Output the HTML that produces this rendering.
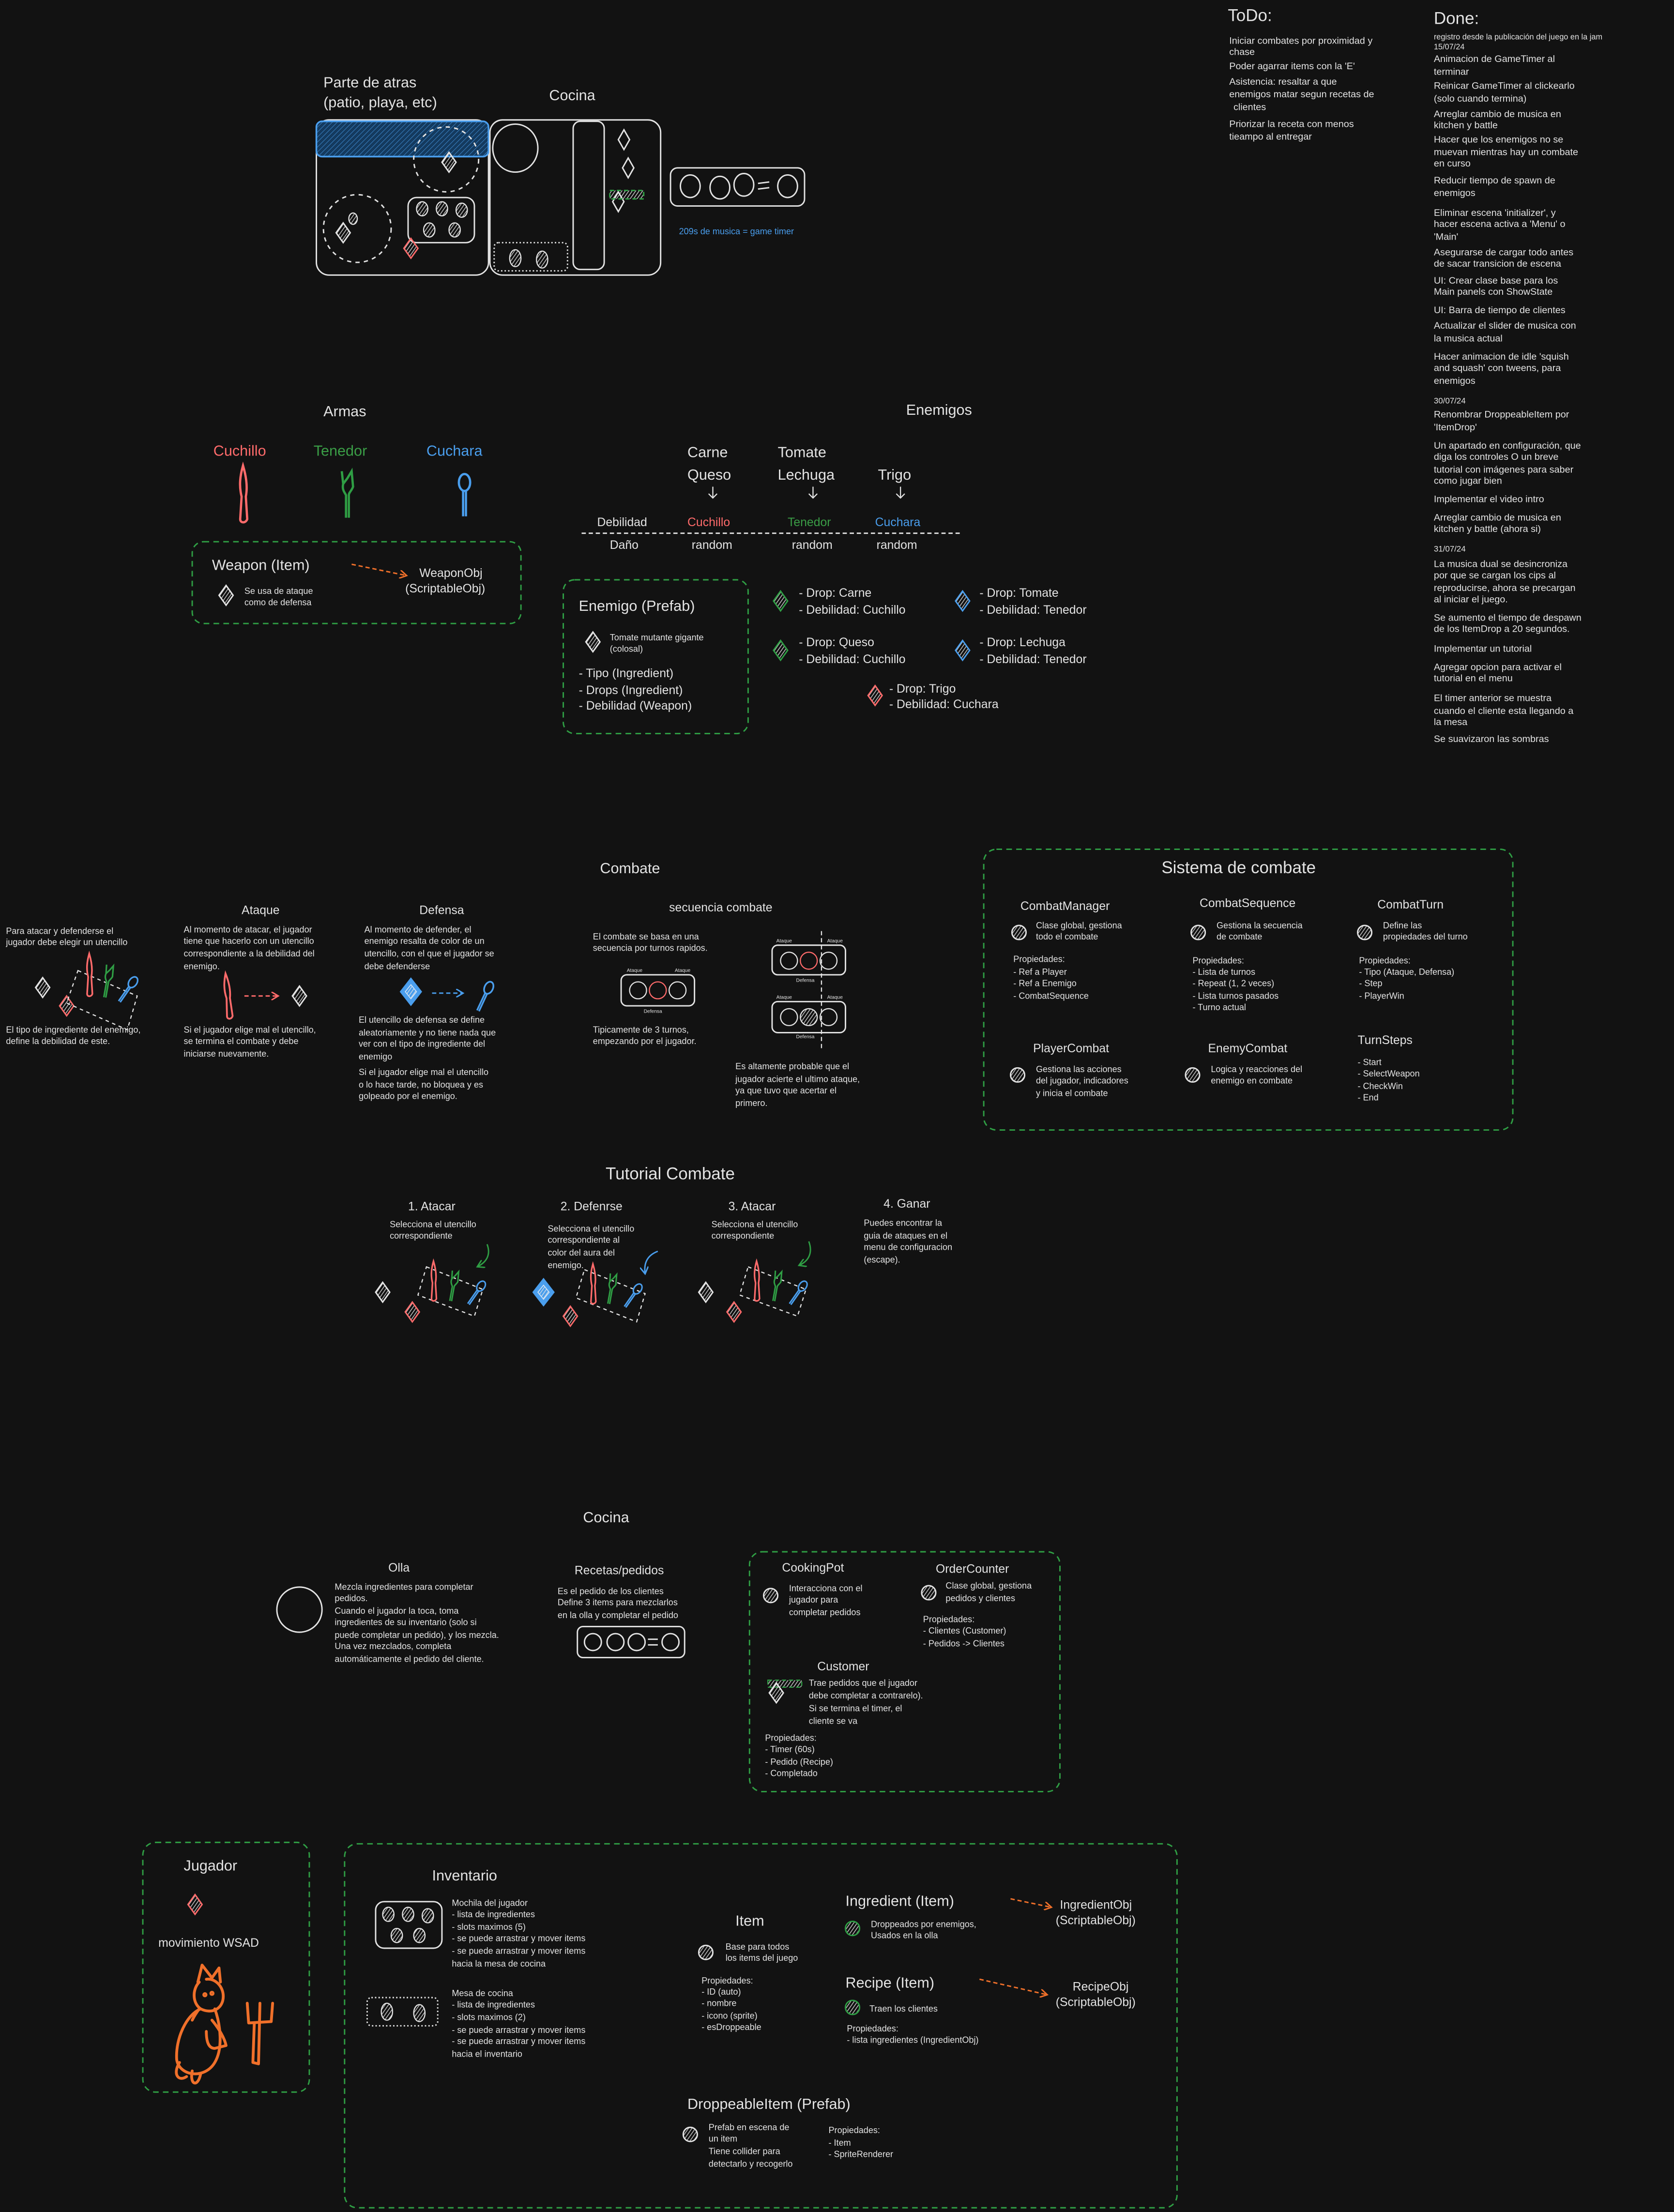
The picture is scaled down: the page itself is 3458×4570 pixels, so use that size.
<!DOCTYPE html>
<html><head><meta charset="utf-8"><style>
html,body{margin:0;padding:0;background:#121212;}
svg{display:block}
text{font-family:"Liberation Sans",sans-serif;fill:#e3e3e3}
.s{font-size:6.2px}.m{font-size:8.5px}.l{font-size:10.5px}.xl{font-size:12px}
.todo{fill:#c9a89a;font-size:6.8px}.done{fill:#3a9d46;font-size:6.8px}
.r{fill:#ff6b6b}.g{fill:#3a9d46}.b{fill:#4a9eed}
.ln{fill:none;stroke:#e3e3e3;stroke-width:1}
.box{fill:none;stroke:#e3e3e3;stroke-width:1}
.gd{fill:none;stroke:#2f9e44;stroke-width:1;stroke-dasharray:4 3}
</style></head><body>
<svg width="3458" height="4570" viewBox="0 0 1186 1568" xmlns="http://www.w3.org/2000/svg">
<defs>
<pattern id="hw" width="2" height="2" patternUnits="userSpaceOnUse" patternTransform="rotate(35)"><line x1="0.5" y1="0" x2="0.5" y2="2" stroke="#e3e3e3" stroke-width="0.45"/></pattern>
<pattern id="hb" width="2.5" height="2.5" patternUnits="userSpaceOnUse" patternTransform="rotate(45)"><line x1="0" y1="0" x2="0" y2="2.5" stroke="#4a9eed" stroke-width="0.5"/></pattern>
<g id="dw"><path d="M0,-7 L5,0 L0,7 L-5,0Z" fill="url(#hw)" stroke="#e3e3e3" stroke-width="1"/></g>
<g id="dr"><path d="M0,-7 L5,0 L0,7 L-5,0Z" fill="url(#hw)" stroke="#ff6b6b" stroke-width="1"/></g>
<g id="dg"><path d="M0,-7 L5,0 L0,7 L-5,0Z" fill="url(#hw)" stroke="#2f9e44" stroke-width="1"/></g>
<g id="db"><path d="M0,-7 L5,0 L0,7 L-5,0Z" fill="url(#hw)" stroke="#4a9eed" stroke-width="1"/></g>
<g id="dbf"><path d="M0,-9 L7,0 L0,9 L-7,0Z" fill="#4a9eed" stroke="#4a9eed" stroke-width="1.5"/><path d="M0,-5 L4,0 L0,5 L-4,0Z" fill="url(#hw)" stroke="#cfe3f7" stroke-width="0.6"/></g>
<g id="cw"><circle r="5" fill="url(#hw)" stroke="#e3e3e3" stroke-width="1"/></g>
<g id="cg"><circle r="5" fill="url(#hw)" stroke="#2f9e44" stroke-width="1"/></g>
<g id="kn"><path d="M0,-20 C3,-10 3,-3 2,2 L3,18 C2,21 -2,21 -2,18 L-1,2 C-3,-6 -2,-13 0,-20Z" fill="none" stroke="#ff6b6b" stroke-width="1.6"/></g>
<g id="fk"><path d="M-4,-17 L-3,-8 L0,-12 L3,-17 L4,-6 C3,-3 1,-2 1,0 L1,16 M-3,-8 C-4,-4 -2,-2 -1,0 L-1,16" fill="none" stroke="#2f9e44" stroke-width="1.6"/></g>
<g id="sp"><ellipse cx="0" cy="-10" rx="4" ry="6" fill="none" stroke="#4a9eed" stroke-width="1.6"/><path d="M-1,-4 L-1,14 M1,-4 L1,14" stroke="#4a9eed" stroke-width="1.6"/></g>
<marker id="ao" markerWidth="6" markerHeight="6" refX="5" refY="3" orient="auto"><path d="M0,0 L5,3 L0,6" fill="none" stroke="#f0702a" stroke-width="1"/></marker>
<marker id="ar" markerWidth="6" markerHeight="6" refX="5" refY="3" orient="auto"><path d="M0,0 L5,3 L0,6" fill="none" stroke="#ff6b6b" stroke-width="1"/></marker>
<marker id="ab" markerWidth="6" markerHeight="6" refX="5" refY="3" orient="auto"><path d="M0,0 L5,3 L0,6" fill="none" stroke="#4a9eed" stroke-width="1"/></marker>
<marker id="ag" markerWidth="6" markerHeight="6" refX="5" refY="3" orient="auto"><path d="M0,0 L5,3 L0,6" fill="none" stroke="#2f9e44" stroke-width="1"/></marker>
</defs>
<rect width="1186" height="1568" fill="#121212"/>

<!-- TOP MAP -->
<text x="229" y="62" class="l">Parte de atras</text>
<text x="229" y="76" class="l">(patio, playa, etc)</text>
<text x="389" y="71" class="l">Cocina</text>
<rect x="224" y="85" width="122" height="110" rx="9" class="box"/>
<rect x="224" y="86" width="122" height="25" rx="4" fill="#143a5e" stroke="#4a9eed" stroke-width="1.2"/>
<rect x="224" y="86" width="122" height="25" rx="4" fill="url(#hb)"/>
<circle cx="316" cy="113" r="23" fill="none" stroke="#e3e3e3" stroke-dasharray="3 3"/>
<use href="#dw" x="318" y="115"/>
<circle cx="253" cy="162" r="24" fill="none" stroke="#e3e3e3" stroke-dasharray="3 3"/>
<use href="#dw" x="243" y="165"/>
<ellipse cx="250" cy="155" rx="3" ry="4" fill="url(#hw)" stroke="#e3e3e3" stroke-width=".8"/>
<rect x="289" y="140" width="47" height="32" rx="6" class="box"/>
<g fill="url(#hw)" stroke="#e3e3e3" stroke-width=".8"><ellipse cx="299" cy="148" rx="4" ry="5"/><ellipse cx="313" cy="148" rx="4" ry="5"/><ellipse cx="327" cy="149" rx="4" ry="5"/><ellipse cx="304" cy="163" rx="4" ry="5"/><ellipse cx="322" cy="163" rx="4" ry="5"/></g>
<use href="#dr" x="291" y="176"/>
<rect x="347" y="85" width="121" height="110" rx="9" class="box"/>
<ellipse cx="365" cy="105" rx="16" ry="17" class="box"/>
<rect x="406" y="86" width="22" height="105" rx="5" class="box"/>
<path d="M442,92 L446,99 L442,106 L438,99Z M445,112 L449,119 L445,126 L441,119Z M438,136 L442,143 L438,150 L434,143Z" class="box"/>
<rect x="432" y="135" width="24" height="6" fill="url(#hw)" stroke="#2f9e44" stroke-dasharray="3 2"/>
<rect x="350" y="172" width="52" height="20" rx="3" fill="none" stroke="#e3e3e3" stroke-dasharray="1 1.5"/>
<g fill="url(#hw)" stroke="#e3e3e3" stroke-width=".8"><ellipse cx="365" cy="183" rx="4" ry="6"/><ellipse cx="384" cy="184" rx="4" ry="6"/></g>
<rect x="475" y="119" width="95" height="27" rx="5" class="box"/>
<g class="ln"><ellipse cx="489" cy="132" rx="7" ry="8"/><ellipse cx="510" cy="133" rx="7" ry="8"/><ellipse cx="527" cy="131" rx="7" ry="8"/><ellipse cx="558" cy="132" rx="7" ry="8"/><path d="M537,130 L545,129 M537,134 L545,133"/></g>
<text x="481" y="166" class="s b">209s de musica = game timer</text>

<!-- TODO -->
<text x="870" y="15" class="xl">ToDo:</text>
<g class="todo">
<text x="871" y="31">Iniciar combates por proximidad y</text>
<text x="871" y="39">chase</text>
<text x="871" y="49">Poder agarrar items con la 'E'</text>
<text x="871" y="60">Asistencia: resaltar a que</text>
<text x="871" y="69">enemigos matar segun recetas de</text>
<text x="874" y="78">clientes</text>
<text x="871" y="90">Priorizar la receta con menos</text>
<text x="871" y="99">tieampo al entregar</text>
</g>
<text x="1016" y="17" class="xl">Done:</text>
<text x="1016" y="28" style="font-size:5.6px">registro desde la publicación del juego en la jam</text>
<text x="1016" y="35" style="font-size:5.6px">15/07/24</text>
<g class="done">
<text x="1016" y="44">Animacion de GameTimer al</text><text x="1016" y="53">terminar</text>
<text x="1016" y="63">Reinicar GameTimer al clickearlo</text><text x="1016" y="72">(solo cuando termina)</text>
<text x="1016" y="83">Arreglar cambio de musica en</text><text x="1016" y="91">kitchen y battle</text>
<text x="1016" y="101">Hacer que los enemigos no se</text><text x="1016" y="110">muevan mientras hay un combate</text><text x="1016" y="118">en curso</text>
<text x="1016" y="130">Reducir tiempo de spawn de</text><text x="1016" y="139">enemigos</text>
<text x="1016" y="153">Eliminar escena 'initializer', y</text><text x="1016" y="161">hacer escena activa a 'Menu' o</text><text x="1016" y="170">'Main'</text>
<text x="1016" y="181">Asegurarse de cargar todo antes</text><text x="1016" y="189">de sacar transicion de escena</text>
<text x="1016" y="201">UI: Crear clase base para los</text><text x="1016" y="209">Main panels con ShowState</text>
<text x="1016" y="222">UI: Barra de tiempo de clientes</text>
<text x="1016" y="233">Actualizar el slider de musica con</text><text x="1016" y="242">la musica actual</text>
<text x="1016" y="255">Hacer animacion de idle 'squish</text><text x="1016" y="263">and squash' con tweens, para</text><text x="1016" y="272">enemigos</text>
</g>
<text x="1016" y="286" style="font-size:5.8px">30/07/24</text>
<g class="done">
<text x="1016" y="296">Renombrar DroppeableItem por</text><text x="1016" y="305">'ItemDrop'</text>
<text x="1016" y="318">Un apartado en configuración, que</text><text x="1016" y="326">diga los controles O un breve</text><text x="1016" y="335">tutorial con imágenes para saber</text><text x="1016" y="343">como jugar bien</text>
<text x="1016" y="356">Implementar el video intro</text>
<text x="1016" y="369">Arreglar cambio de musica en</text><text x="1016" y="377">kitchen y battle (ahora si)</text>
</g>
<text x="1016" y="391" style="font-size:5.8px">31/07/24</text>
<g class="done">
<text x="1016" y="402">La musica dual se desincroniza</text><text x="1016" y="410">por que se cargan los cips al</text><text x="1016" y="419">reproducirse, ahora se precargan</text><text x="1016" y="427">al iniciar el juego.</text>
<text x="1016" y="440">Se aumento el tiempo de despawn</text><text x="1016" y="448">de los ItemDrop a 20 segundos.</text>
<text x="1016" y="462">Implementar un tutorial</text>
<text x="1016" y="475">Agregar opcion para activar el</text><text x="1016" y="483">tutorial en el menu</text>
<text x="1016" y="497">El timer anterior se muestra</text><text x="1016" y="506">cuando el cliente esta llegando a</text><text x="1016" y="514">la mesa</text>
<text x="1016" y="526">Se suavizaron las sombras</text>
</g>

<!-- ARMAS -->
<text x="229" y="295" class="l">Armas</text>
<text x="151" y="323" class="l r">Cuchillo</text>
<text x="222" y="323" class="l g">Tenedor</text>
<text x="302" y="323" class="l b">Cuchara</text>
<use href="#kn" x="172" y="350"/>
<use href="#fk" x="246" y="351"/>
<use href="#sp" x="329" y="352"/>
<rect x="136" y="384" width="233" height="58" rx="8" class="gd"/>
<text x="150" y="404" class="l">Weapon (Item)</text>
<use href="#dw" x="160" y="422"/>
<text x="173" y="421" class="s">Se usa de ataque</text><text x="173" y="429" class="s">como de defensa</text>
<path d="M249,400 L288,408" stroke="#f0702a" stroke-dasharray="3 2" fill="none" marker-end="url(#ao)"/>
<text x="297" y="409" class="m">WeaponObj</text>
<text x="287" y="420" class="m">(ScriptableObj)</text>

<!-- ENEMIGOS -->
<text x="642" y="294" class="l">Enemigos</text>
<text x="487" y="324" class="l">Carne</text><text x="487" y="340" class="l">Queso</text>
<text x="551" y="324" class="l">Tomate</text><text x="551" y="340" class="l">Lechuga</text>
<text x="622" y="340" class="l">Trigo</text>
<g stroke="#e3e3e3" stroke-width=".8" fill="none"><path d="M505,345 L505,353 M502,350 L505,353 L508,350"/><path d="M576,345 L576,353 M573,350 L576,353 L579,350"/><path d="M638,345 L638,353 M635,350 L638,353 L641,350"/></g>
<text x="423" y="373" class="m">Debilidad</text>
<text x="487" y="373" class="m r">Cuchillo</text>
<text x="558" y="373" class="m g">Tenedor</text>
<text x="620" y="373" class="m b">Cuchara</text>
<path d="M412,378 L682,378" stroke="#e3e3e3" stroke-dasharray="3 2"/>
<text x="432" y="389" class="m">Daño</text>
<text x="490" y="389" class="m">random</text><text x="561" y="389" class="m">random</text><text x="621" y="389" class="m">random</text>
<rect x="399" y="411" width="131" height="109" rx="8" class="gd"/>
<text x="410" y="433" class="l">Enemigo (Prefab)</text>
<use href="#dw" x="420" y="455"/>
<text x="432" y="454" class="s">Tomate mutante gigante</text><text x="432" y="462" class="s">(colosal)</text>
<text x="410" y="480" class="m">- Tipo (Ingredient)</text>
<text x="410" y="492" class="m">- Drops (Ingredient)</text>
<text x="410" y="503" class="m">- Debilidad (Weapon)</text>
<use href="#dg" x="553" y="426"/>
<text x="566" y="423" class="m">- Drop: Carne</text><text x="566" y="435" class="m">- Debilidad: Cuchillo</text>
<use href="#db" x="682" y="426"/>
<text x="694" y="423" class="m">- Drop: Tomate</text><text x="694" y="435" class="m">- Debilidad: Tenedor</text>
<use href="#dg" x="553" y="461"/>
<text x="566" y="458" class="m">- Drop: Queso</text><text x="566" y="470" class="m">- Debilidad: Cuchillo</text>
<use href="#db" x="682" y="461"/>
<text x="694" y="458" class="m">- Drop: Lechuga</text><text x="694" y="470" class="m">- Debilidad: Tenedor</text>
<use href="#dr" x="620" y="493"/>
<text x="630" y="491" class="m">- Drop: Trigo</text><text x="630" y="502" class="m">- Debilidad: Cuchara</text>

<!-- COMBATE -->
<text x="425" y="619" class="l">Combate</text>
<text x="4" y="662" class="s">Para atacar y defenderse el</text><text x="4" y="670" class="s">jugador debe elegir un utencillo</text>
<use href="#dw" x="30" y="700"/>
<use href="#dr" x="47" y="713"/>
<path d="M55,688 L97,706 L90,730 L47,711Z" fill="none" stroke="#e3e3e3" stroke-dasharray="2.5 2.5" stroke-width=".8"/>
<g transform="translate(63,691) scale(.75)"><use href="#kn"/></g>
<g transform="translate(76,696) scale(.7) rotate(10)"><use href="#fk"/></g>
<g transform="translate(90,702) scale(.7) rotate(35)"><use href="#sp"/></g>
<text x="4" y="732" class="s">El tipo de ingrediente del enemigo,</text><text x="4" y="740" class="s">define la debilidad de este.</text>
<text x="171" y="648" class="m">Ataque</text>
<text x="130" y="661" class="s">Al momento de atacar, el jugador</text><text x="130" y="669" class="s">tiene que hacerlo con un utencillo</text><text x="130" y="678" class="s">correspondiente a la debilidad del</text><text x="130" y="687" class="s">enemigo.</text>
<g transform="translate(161,706) scale(.8) rotate(-5)"><use href="#kn"/></g>
<path d="M173,706 L197,706" stroke="#ff6b6b" stroke-dasharray="3 2" marker-end="url(#ar)"/>
<use href="#dw" x="212" y="706"/>
<text x="130" y="732" class="s">Si el jugador elige mal el utencillo,</text><text x="130" y="740" class="s">se termina el combate y debe</text><text x="130" y="749" class="s">iniciarse nuevamente.</text>
<text x="297" y="648" class="m">Defensa</text>
<text x="258" y="661" class="s">Al momento de defender, el</text><text x="258" y="669" class="s">enemigo resalta de color de un</text><text x="258" y="678" class="s">utencillo, con el que el jugador se</text><text x="258" y="687" class="s">debe defenderse</text>
<use href="#dbf" x="291" y="703"/>
<path d="M306,704 L328,704" stroke="#4a9eed" stroke-dasharray="3 2" marker-end="url(#ab)"/>
<g transform="translate(343,707) scale(.75) rotate(25)"><use href="#sp"/></g>
<text x="254" y="725" class="s">El utencillo de defensa se define</text><text x="254" y="734" class="s">aleatoriamente y no tiene nada que</text><text x="254" y="742" class="s">ver con el tipo de ingrediente del</text><text x="254" y="751" class="s">enemigo</text>
<text x="254" y="762" class="s">Si el jugador elige mal el utencillo</text><text x="254" y="771" class="s">o lo hace tarde, no bloquea y es</text><text x="254" y="779" class="s">golpeado por el enemigo.</text>

<text x="474" y="646" class="m">secuencia combate</text>
<text x="420" y="666" class="s">El combate se basa en una</text><text x="420" y="674" class="s">secuencia por turnos rapidos.</text>
<text x="444" y="689" style="font-size:3.5px">Ataque</text><text x="478" y="689" style="font-size:3.5px">Ataque</text>
<rect x="440" y="691" width="52" height="22" rx="4" class="box"/>
<g fill="none" stroke="#e3e3e3" stroke-width=".8"><circle cx="452" cy="702" r="6"/><circle cx="466" cy="702" r="6" stroke="#ff6b6b"/><circle cx="480" cy="702" r="6"/></g>
<text x="456" y="718" style="font-size:3.5px">Defensa</text>
<text x="420" y="732" class="s">Tipicamente de 3 turnos,</text><text x="420" y="740" class="s">empezando por el jugador.</text>
<path d="M582,660 L582,745" stroke="#e3e3e3" stroke-dasharray="3 2" stroke-width=".8"/>
<text x="550" y="668" style="font-size:3.5px">Ataque</text><text x="586" y="668" style="font-size:3.5px">Ataque</text>
<rect x="547" y="670" width="52" height="21" rx="4" class="box"/>
<g fill="none" stroke="#e3e3e3" stroke-width=".8"><circle cx="559" cy="681" r="6"/><circle cx="573" cy="681" r="6" stroke="#ff6b6b"/><circle cx="587" cy="681" r="6"/></g>
<text x="564" y="696" style="font-size:3.5px">Defensa</text>
<text x="550" y="708" style="font-size:3.5px">Ataque</text><text x="586" y="708" style="font-size:3.5px">Ataque</text>
<rect x="547" y="710" width="52" height="22" rx="4" class="box"/>
<g fill="none" stroke="#e3e3e3" stroke-width=".8"><circle cx="559" cy="721" r="6"/><circle cx="573" cy="721" r="6" fill="url(#hw)"/><circle cx="587" cy="721" r="6"/></g>
<text x="564" y="736" style="font-size:3.5px">Defensa</text>
<text x="521" y="758" class="s">Es altamente probable que el</text><text x="521" y="767" class="s">jugador acierte el ultimo ataque,</text><text x="521" y="775" class="s">ya que tuvo que acertar el</text><text x="521" y="784" class="s">primero.</text>

<!-- SISTEMA DE COMBATE -->
<rect x="697" y="602" width="375" height="199" rx="9" class="gd"/>
<text x="823" y="619" class="xl">Sistema de combate</text>
<text x="723" y="645" class="m">CombatManager</text>
<use href="#cw" x="722" y="661"/>
<text x="734" y="658" class="s">Clase global, gestiona</text><text x="734" y="666" class="s">todo el combate</text>
<text x="718" y="682" class="s">Propiedades:</text><text x="718" y="691" class="s">- Ref a Player</text><text x="718" y="699" class="s">- Ref a Enemigo</text><text x="718" y="708" class="s">- CombatSequence</text>
<text x="850" y="643" class="m">CombatSequence</text>
<use href="#cw" x="849" y="661"/>
<text x="862" y="658" class="s">Gestiona la secuencia</text><text x="862" y="666" class="s">de combate</text>
<text x="845" y="683" class="s">Propiedades:</text><text x="845" y="691" class="s">- Lista de turnos</text><text x="845" y="699" class="s">- Repeat (1, 2 veces)</text><text x="845" y="708" class="s">- Lista turnos pasados</text><text x="845" y="716" class="s">- Turno actual</text>
<text x="976" y="644" class="m">CombatTurn</text>
<use href="#cw" x="967" y="661"/>
<text x="980" y="658" class="s">Define las</text><text x="980" y="666" class="s">propiedades del turno</text>
<text x="963" y="683" class="s">Propiedades:</text><text x="963" y="691" class="s">- Tipo (Ataque, Defensa)</text><text x="963" y="699" class="s">- Step</text><text x="963" y="708" class="s">- PlayerWin</text>
<text x="732" y="746" class="m">PlayerCombat</text>
<use href="#cw" x="721" y="762"/>
<text x="734" y="760" class="s">Gestiona las acciones</text><text x="734" y="768" class="s">del jugador, indicadores</text><text x="734" y="777" class="s">y inicia el combate</text>
<text x="856" y="746" class="m">EnemyCombat</text>
<use href="#cw" x="845" y="762"/>
<text x="858" y="760" class="s">Logica y reacciones del</text><text x="858" y="768" class="s">enemigo en combate</text>
<text x="962" y="740" class="m">TurnSteps</text>
<text x="962" y="755" class="s">- Start</text><text x="962" y="763" class="s">- SelectWeapon</text><text x="962" y="772" class="s">- CheckWin</text><text x="962" y="780" class="s">- End</text>

<!-- TUTORIAL -->
<text x="429" y="836" class="xl">Tutorial Combate</text>
<text x="289" y="858" class="m">1. Atacar</text>
<text x="276" y="870" class="s">Selecciona el utencillo</text><text x="276" y="878" class="s">correspondiente</text>
<use href="#dw" x="271" y="916"/><use href="#dr" x="292" y="930"/>
<path d="M302,898 L342,914 L336,933 L296,918Z" fill="none" stroke="#e3e3e3" stroke-dasharray="2.5 2.5" stroke-width=".8"/>
<g transform="translate(307,908) scale(.7)"><use href="#kn"/></g><g transform="translate(321,912) scale(.65) rotate(10)"><use href="#fk"/></g><g transform="translate(337,917) scale(.65) rotate(35)"><use href="#sp"/></g>
<path d="M345,882 C348,890 344,895 338,898" fill="none" stroke="#2f9e44" marker-end="url(#ag)"/>
<text x="397" y="858" class="m">2. Defenrse</text>
<text x="388" y="873" class="s">Selecciona el utencillo</text><text x="388" y="881" class="s">correspondiente al</text><text x="388" y="890" class="s">color del aura del</text><text x="388" y="899" class="s">enemigo.</text>
<use href="#dbf" x="385" y="916"/><use href="#dr" x="404" y="933"/>
<path d="M414,900 L457,917 L451,937 L408,920Z" fill="none" stroke="#e3e3e3" stroke-dasharray="2.5 2.5" stroke-width=".8"/>
<g transform="translate(420,910) scale(.7)"><use href="#kn"/></g><g transform="translate(433,914) scale(.65) rotate(10)"><use href="#fk"/></g><g transform="translate(448,919) scale(.65) rotate(35)"><use href="#sp"/></g>
<path d="M466,887 C458,890 456,896 457,903" fill="none" stroke="#4a9eed" marker-end="url(#ab)"/>
<text x="516" y="858" class="m">3. Atacar</text>
<text x="504" y="870" class="s">Selecciona el utencillo</text><text x="504" y="878" class="s">correspondiente</text>
<use href="#dw" x="500" y="916"/><use href="#dr" x="520" y="930"/>
<path d="M530,898 L571,914 L565,933 L524,918Z" fill="none" stroke="#e3e3e3" stroke-dasharray="2.5 2.5" stroke-width=".8"/>
<g transform="translate(536,908) scale(.7)"><use href="#kn"/></g><g transform="translate(550,912) scale(.65) rotate(10)"><use href="#fk"/></g><g transform="translate(565,917) scale(.65) rotate(35)"><use href="#sp"/></g>
<path d="M573,880 C576,888 573,894 566,897" fill="none" stroke="#2f9e44" marker-end="url(#ag)"/>
<text x="626" y="856" class="m">4. Ganar</text>
<text x="612" y="869" class="s">Puedes encontrar la</text><text x="612" y="878" class="s">guia de ataques en el</text><text x="612" y="886" class="s">menu de configuracion</text><text x="612" y="895" class="s">(escape).</text>

<!-- COCINA -->
<text x="413" y="1079" class="l">Cocina</text>
<text x="275" y="1114" class="m">Olla</text>
<circle cx="212" cy="1141" r="16" class="box"/>
<text x="237" y="1127" class="s">Mezcla ingredientes para completar</text><text x="237" y="1135" class="s">pedidos.</text><text x="237" y="1144" class="s">Cuando el jugador la toca, toma</text><text x="237" y="1152" class="s">ingredientes de su inventario (solo si</text><text x="237" y="1161" class="s">puede completar un pedido), y los mezcla.</text><text x="237" y="1169" class="s">Una vez mezclados, completa</text><text x="237" y="1178" class="s">automáticamente el pedido del cliente.</text>
<text x="407" y="1116" class="m">Recetas/pedidos</text>
<text x="395" y="1130" class="s">Es el pedido de los clientes</text><text x="395" y="1138" class="s">Define 3 items para mezclarlos</text><text x="395" y="1147" class="s">en la olla y completar el pedido</text>
<rect x="409" y="1153" width="76" height="22" rx="4" class="box"/>
<g class="ln"><circle cx="420" cy="1164" r="6"/><circle cx="436" cy="1164" r="6"/><circle cx="451" cy="1164" r="6"/><circle cx="475" cy="1164" r="6"/><path d="M459,1162 L466,1162 M459,1166 L466,1166"/></g>
<rect x="531" y="1100" width="220" height="170" rx="9" class="gd"/>
<text x="554" y="1114" class="m">CookingPot</text>
<use href="#cw" x="546" y="1131"/>
<text x="559" y="1128" class="s">Interacciona con el</text><text x="559" y="1136" class="s">jugador para</text><text x="559" y="1145" class="s">completar pedidos</text>
<text x="663" y="1115" class="m">OrderCounter</text>
<use href="#cw" x="658" y="1129"/>
<text x="670" y="1126" class="s">Clase global, gestiona</text><text x="670" y="1135" class="s">pedidos y clientes</text>
<text x="654" y="1150" class="s">Propiedades:</text><text x="654" y="1158" class="s">- Clientes (Customer)</text><text x="654" y="1167" class="s">- Pedidos -&gt; Clientes</text>
<text x="579" y="1184" class="m">Customer</text>
<rect x="544" y="1191" width="24" height="5" fill="url(#hw)" stroke="#2f9e44" stroke-dasharray="3 2" stroke-width=".8"/>
<use href="#dw" x="550" y="1200"/>
<text x="573" y="1195" class="s">Trae pedidos que el jugador</text><text x="573" y="1204" class="s">debe completar a contrarelo).</text><text x="573" y="1213" class="s">Si se termina el timer, el</text><text x="573" y="1222" class="s">cliente se va</text>
<text x="542" y="1234" class="s">Propiedades:</text><text x="542" y="1242" class="s">- Timer (60s)</text><text x="542" y="1251" class="s">- Pedido (Recipe)</text><text x="542" y="1259" class="s">- Completado</text>

<!-- JUGADOR -->
<rect x="101" y="1306" width="118" height="177" rx="9" class="gd"/>
<text x="130" y="1326" class="l">Jugador</text>
<use href="#dr" x="138" y="1350"/>
<text x="112" y="1380" class="m">movimiento WSAD</text>
<g fill="none" stroke="#f0702a" stroke-width="2" stroke-linecap="round" stroke-linejoin="round">
<path d="M143,1393 L140,1405 M143,1393 L150,1402 L155,1395 L156,1405"/>
<path d="M141,1405 C136,1410 136,1420 142,1424 C150,1428 158,1424 158,1415 C158,1408 152,1402 146,1403"/>
<circle cx="145" cy="1414" r=".8"/><circle cx="150" cy="1413" r=".8"/>
<path d="M142,1424 C132,1428 124,1445 125,1460 C127,1472 145,1474 152,1462 C158,1452 156,1435 152,1424"/>
<path d="M141,1424 C138,1428 136,1432 136,1432 M150,1432 C155,1438 159,1445 160,1450 L152,1452 M146,1440 C146,1448 148,1452 152,1452"/>
<path d="M127,1462 C122,1470 126,1476 132,1472 M136,1468 C134,1478 140,1480 142,1470"/>
<path d="M175,1420 L176,1434 L192,1433 L193,1420 M184,1420 L183,1463 L179,1462 L180,1434"/>
</g>

<!-- INVENTARIO -->
<rect x="244" y="1307" width="590" height="258" rx="9" class="gd"/>
<text x="306" y="1333" class="l">Inventario</text>
<rect x="266" y="1348" width="47" height="33" rx="6" class="box"/>
<g fill="url(#hw)" stroke="#e3e3e3" stroke-width=".8"><ellipse cx="275" cy="1357" rx="4" ry="5"/><ellipse cx="289" cy="1357" rx="4" ry="5"/><ellipse cx="303" cy="1358" rx="4" ry="5"/><ellipse cx="281" cy="1372" rx="4" ry="5"/><ellipse cx="297" cy="1372" rx="4" ry="5"/></g>
<text x="320" y="1351" class="s">Mochila del jugador</text><text x="320" y="1359" class="s">- lista de ingredientes</text><text x="320" y="1368" class="s">- slots maximos (5)</text><text x="320" y="1376" class="s">- se puede arrastrar y mover items</text><text x="320" y="1385" class="s">- se puede arrastrar y mover items</text><text x="320" y="1394" class="s">hacia la mesa de cocina</text>
<rect x="260" y="1416" width="50" height="20" rx="3" fill="none" stroke="#e3e3e3" stroke-dasharray="1 1.5"/>
<g fill="url(#hw)" stroke="#e3e3e3" stroke-width=".8"><ellipse cx="274" cy="1426" rx="4" ry="6"/><ellipse cx="297" cy="1427" rx="4" ry="6"/></g>
<text x="320" y="1415" class="s">Mesa de cocina</text><text x="320" y="1423" class="s">- lista de ingredientes</text><text x="320" y="1432" class="s">- slots maximos (2)</text><text x="320" y="1441" class="s">- se puede arrastrar y mover items</text><text x="320" y="1449" class="s">- se puede arrastrar y mover items</text><text x="320" y="1458" class="s">hacia el inventario</text>
<text x="521" y="1365" class="l">Item</text>
<use href="#cw" x="500" y="1384"/>
<text x="514" y="1382" class="s">Base para todos</text><text x="514" y="1390" class="s">los items del juego</text>
<text x="497" y="1406" class="s">Propiedades:</text><text x="497" y="1414" class="s">- ID (auto)</text><text x="497" y="1422" class="s">- nombre</text><text x="497" y="1431" class="s">- icono (sprite)</text><text x="497" y="1439" class="s">- esDroppeable</text>
<text x="599" y="1351" class="l">Ingredient (Item)</text>
<use href="#cg" x="604" y="1367"/>
<text x="617" y="1366" class="s">Droppeados por enemigos,</text><text x="617" y="1374" class="s">Usados en la olla</text>
<path d="M716,1346 L745,1352" stroke="#f0702a" stroke-dasharray="3 2" fill="none" marker-end="url(#ao)"/>
<text x="751" y="1353" class="m">IngredientObj</text><text x="748" y="1364" class="m">(ScriptableObj)</text>
<text x="599" y="1409" class="l">Recipe (Item)</text>
<use href="#cg" x="604" y="1423"/>
<text x="616" y="1426" class="s">Traen los clientes</text>
<text x="600" y="1440" class="s">Propiedades:</text><text x="600" y="1448" class="s">- lista ingredientes (IngredientObj)</text>
<path d="M694,1403 L742,1414" stroke="#f0702a" stroke-dasharray="3 2" fill="none" marker-end="url(#ao)"/>
<text x="760" y="1411" class="m">RecipeObj</text><text x="748" y="1422" class="m">(ScriptableObj)</text>
<text x="487" y="1495" class="l">DroppeableItem (Prefab)</text>
<use href="#cw" x="489" y="1513"/>
<text x="502" y="1510" class="s">Prefab en escena de</text><text x="502" y="1518" class="s">un item</text><text x="502" y="1527" class="s">Tiene collider para</text><text x="502" y="1536" class="s">detectarlo y recogerlo</text>
<text x="587" y="1512" class="s">Propiedades:</text><text x="587" y="1521" class="s">- Item</text><text x="587" y="1529" class="s">- SpriteRenderer</text>
</svg>
</body></html>
